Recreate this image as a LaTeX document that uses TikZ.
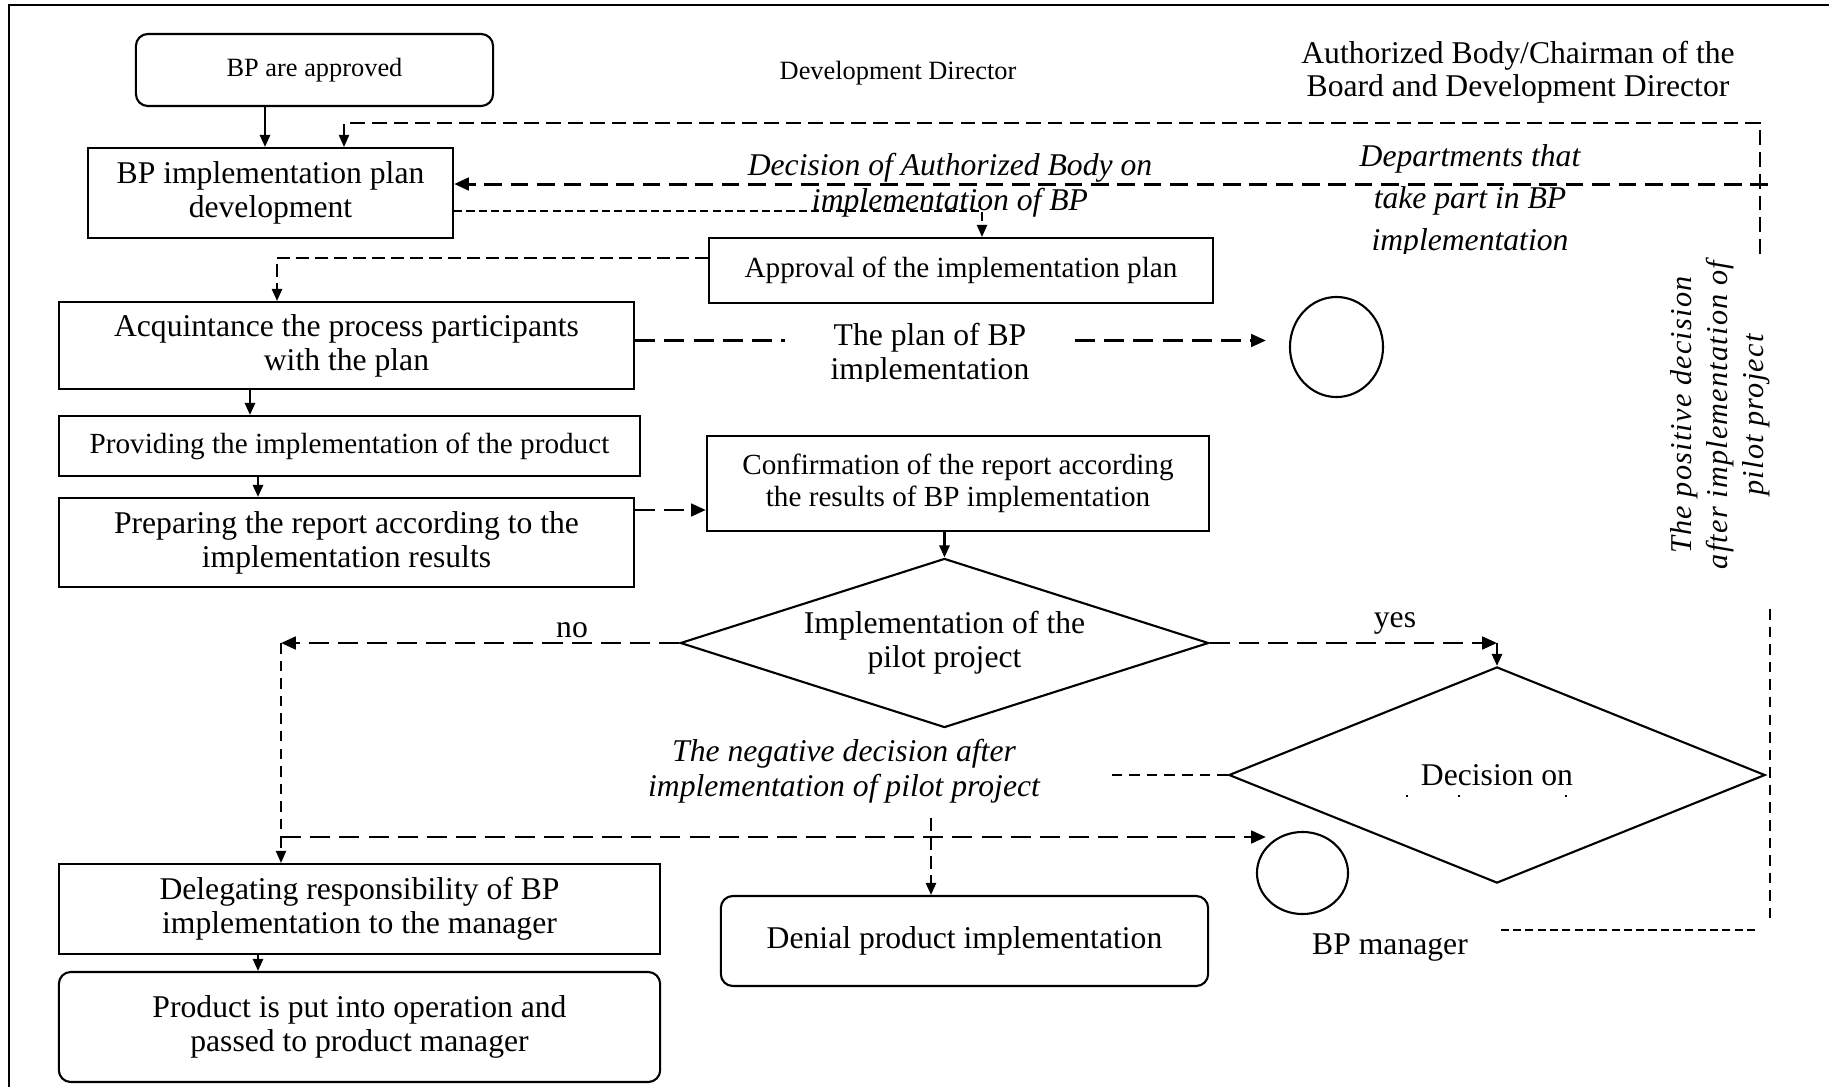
\documentclass[tikz,border=0pt]{standalone}
\usepackage{fontspec}
\setmainfont{Liberation Serif}
\newfontfamily\sidefont[LetterSpace=4]{Liberation Serif}
\usetikzlibrary{arrows.meta,shapes.geometric,calc}

\newcommand\fsA{\fontsize{9}{9.6}\selectfont}
\newcommand\fsB{\fontsize{8.3}{9.2}\selectfont}
\newcommand\fsC{\fontsize{7.5}{8.5}\selectfont}

\tikzset{
  solidline/.style={line width=0.6pt},
  arr/.style={-{Triangle[length=3.4pt,width=2.9pt]}},
  arrbig/.style={-{Triangle[length=4.2pt,width=3.6pt]}},
  box/.style={draw, line width=0.6pt, inner sep=0pt, align=center},
  term/.style={box, rounded corners=0.12cm},
  txt/.style={inner sep=0pt, align=center},
  choice/.style={draw, line width=0.6pt, diamond, inner sep=0pt, align=center},
  store/.style={draw, line width=0.6pt, ellipse, inner sep=0pt},
  dashTop/.style={line width=0.45pt, dash pattern=on 4.2pt off 2pt},
  dashThick/.style={line width=0.85pt, dash pattern=on 5pt off 2.5pt},
  dashFine/.style={line width=0.4pt, dash pattern=on 2.3pt off 1.2pt},
  dashMid/.style={line width=0.5pt, dash pattern=on 3.7pt off 1.7pt},
  dashLong/.style={line width=0.75pt, dash pattern=on 5.7pt off 2.6pt},
  dashThin/.style={line width=0.4pt, dash pattern=on 3pt off 2pt},
}

\begin{document}
\begin{tikzpicture}[x=0.01cm,y=-0.01cm]
\useasboundingbox (0,0) rectangle (1829,1087);

% outer frame (top and left edges)
\draw[line width=0.7pt] (9,1087) -- (9,5) -- (1829,5);

% process boxes
\node[term, font=\fsC, minimum width=3.57cm, minimum height=0.72cm] (n1) at (314.5,70) {BP are approved};
\node[box, font=\fsA, minimum width=3.65cm, minimum height=0.90cm] (n2) at (270.5,193) {BP implementation plan\\development};
\node[box, font=\fsB, minimum width=5.04cm, minimum height=0.65cm] (n3) at (961,270.5) {Approval of the implementation plan};
\node[box, font=\fsA, minimum width=5.75cm, minimum height=0.87cm] (n4) at (346.5,345.5) {Acquintance the process participants\\with the plan};
\node[box, font=\fsB, minimum width=5.81cm, minimum height=0.60cm] (n5) at (349.5,446) {Providing the implementation of the product};
\node[box, font=\fsA, minimum width=5.75cm, minimum height=0.89cm] (n6) at (346.5,542.5) {Preparing the report according to the\\implementation results};
\node[box, font=\fsB, minimum width=5.02cm, minimum height=0.95cm] (n7) at (958,483.5) {Confirmation of the report according\\the results of BP implementation};
\node[choice, font=\fsA, aspect=3.1, minimum width=5.28cm, minimum height=1.69cm] (d1) at (944.5,643) {Implementation of the\\pilot project};
\node[choice, font=\fsA, aspect=2.5, minimum width=5.36cm, minimum height=2.16cm] (d2) at (1497,775) {Decision on};
\node[store, minimum width=0.93cm, minimum height=1.00cm] (e1) at (1336.5,347) {};
\node[store, minimum width=0.91cm, minimum height=0.82cm] (e2) at (1302.5,873) {};
\node[box, font=\fsA, minimum width=6.01cm, minimum height=0.90cm] (n8) at (359.5,909) {Delegating responsibility of BP\\implementation to the manager};
\node[term, font=\fsA, minimum width=6.01cm, minimum height=1.10cm] (n9) at (359.5,1027) {Product is put into operation and\\passed to product manager};
\node[term, font=\fsA, minimum width=4.87cm, minimum height=0.90cm] (n10) at (964.5,941) {Denial product implementation};

% remains of the hidden second line of the decision label
\fill (1406,795) rectangle (1408,797);
\fill (1458,795) rectangle (1460,797);
\fill (1565,795) rectangle (1567,797);

% headings and free labels
\node[txt, font=\fsC] (devdir) at (898,73) {Development Director};
\node[txt, font=\fontsize{9}{9.4}\selectfont] (auth) at (1518,72) {Authorized Body/Chairman of the\\Board and Development Director};
\node[txt, font=\fontsize{9}{10}\selectfont\itshape] (decis) at (950,185) {Decision of Authorized Body on\\implementation of BP};
\begin{scope}
  \clip (1300,120) rectangle (1650,253);
  \node[txt, font=\fontsize{9}{12}\selectfont\itshape] (dept) at (1470,201) {Departments that\\take part in BP\\implementation};
\end{scope}
\begin{scope}
  \clip (700,300) rectangle (1200,381);
  \node[txt, font=\fsA, inner xsep=0.45cm] (plan) at (930,355) {The plan of BP\\implementation};
\end{scope}
\node[txt, font=\fontsize{9}{10}\selectfont\itshape] (neg) at (844,771) {The negative decision after\\implementation of pilot project};
\node[txt, rotate=90, font=\fontsize{8.6}{10.3}\selectfont\sidefont\itshape] (pos) at (1720,415) {The positive decision\\after implementation of\\pilot project};
\node[txt, font=\fsA] (nolab) at (572,630) {no};
\node[txt, font=\fsA] (yeslab) at (1395,623) {yes};
\node[txt, font=\fsA] (mgr) at (1390,948) {BP manager};

% helper points for bends and open ends
\coordinate (fbR) at (1760,254);
\coordinate (fbC) at (1760,123);
\coordinate (a2) at ($(n2.north)+(73.5,0)$);
\coordinate (decR) at (1768,184);
\coordinate (noB) at (281,643);
\coordinate (split) at (281,837);
\coordinate (yesB) at (d2.north |- d1.east);
\coordinate (negT) at (931,818);
\coordinate (d2end) at (1112,775);
\coordinate (posB) at (1770,609);
\coordinate (posE) at (1770,922);
\coordinate (botR) at (1755,930);
\coordinate (botL) at (1498,930);

% solid flow
\draw[solidline,arr] ($(n1.south)+(-49.5,0)$) coordinate (a1) -- (a1 |- n2.north);
\draw[solidline,arr] ($(n4.south)+(-96.5,0)$) coordinate (a3) -- (a3 |- n5.north);
\draw[solidline,arr] ($(n5.south)+(-91.5,0)$) coordinate (a4) -- (a4 |- n6.north);
\draw[solidline,arr] (n7.south -| d1.north) -- (d1.north);
\draw[solidline,arr] ($(n8.south)+(-101.5,0)$) coordinate (a6) -- (a6 |- n9.north);
\draw[solidline,arr] (yesB) -- (d2.north);

% dashed information flows
\draw[dashTop,arr] (fbR) -- (fbC) -| (a2);
\draw[dashThick,arrbig] (decR) -- (decR -| n2.east);
\draw[dashFine,arr] ($(n2.east)+(0,18)$) -| ($(n3.north)+(21,0)$);
\draw[dashMid,arr] ($(n3.west)+(0,-12.5)$) -| ($(n4.north)+(-69.5,0)$);
\draw[dashLong] ($(n4.east)+(0,-5)$) coordinate (a7) -- (a7 -| plan.west);
\draw[dashLong,arrbig] (a7 -| plan.east) -- ($(a7 -| e1.west)+(-23,0)$);
\draw[dashLong,arrbig] ($(n6.east)+(0,-32.5)$) coordinate (a5) -- (a5 -| n7.west);
\draw[dashLong,arrbig] (d1.west) -- (noB);
\draw[dashThin] (noB) -- (split);
\draw[dashThin,arr] (split) -- (split |- n8.north);
\draw[dashLong,arrbig] (split) -- ($(split -| e2.west)+(10,0)$);
\draw[dashLong,arrbig] (d1.east) -- (yesB);
\draw[dashMid,arr] (negT) -- (negT |- n10.north);
\draw[dashThin] (d2.west) -- (d2end);
\draw[dashThin] (posB) -- (posE);
\draw[dashFine] (botR) -- (botL);
\end{tikzpicture}
\end{document}
